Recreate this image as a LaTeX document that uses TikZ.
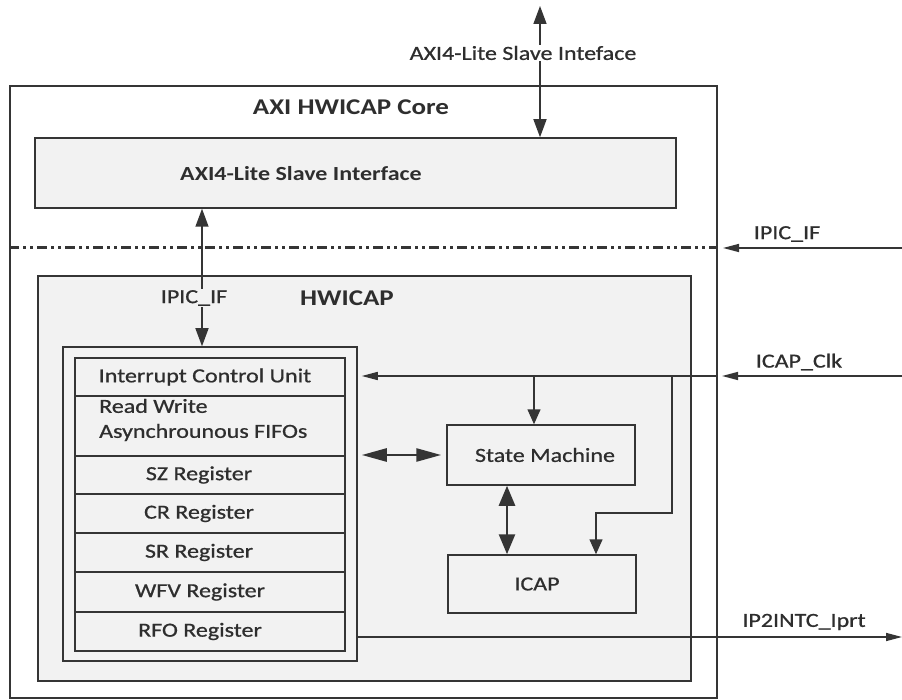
\documentclass[tikz,border=0pt]{standalone}
\usepackage{fontspec}
\setmainfont{Carlito}
\newfontfamily\rgfont{Carlito}[FakeBold=0.7]
\usepackage{graphicx}
\usetikzlibrary{arrows.meta}
\definecolor{lc}{HTML}{353535}
\definecolor{boxfill}{HTML}{F2F2F2}
\definecolor{tc}{HTML}{2E2E2E}
\newcommand{\wx}[1]{\scalebox{1.2}[1]{#1}}
\tikzset{
  bx/.style={draw=lc, line width=1.5pt, fill=boxfill, inner sep=0pt, minimum width=#1},
  ht/.style={minimum height=#1},
  txt/.style={text=tc, inner sep=1pt, font=\fontsize{20}{25}\rgfont},
  ttl/.style={text=tc, inner sep=1pt, font=\fontsize{22.5}{26}\selectfont\bfseries},
  ln/.style={draw=lc, line width=1.5pt},
  thk/.style={draw=lc, line width=2.6pt},
  bigtip/.tip={Triangle[length=18pt,width=13pt]},
  midtip/.tip={Triangle[length=15pt,width=13pt]},
  smalltip/.tip={Triangle[length=16pt,width=8pt]},
  hortip/.tip={Triangle[length=25pt,width=13pt]},
  vertip/.tip={Triangle[length=20pt,width=16pt]}
}
\begin{document}
\begin{tikzpicture}[x=1pt,y=-1pt]
\useasboundingbox[fill=white] (0,0) rectangle (902,700);
% boxes
\node[bx=707pt, ht=612pt, fill=white] (outer) at (363.5,392) {};
\node[bx=641pt, ht=70pt] (axi) at (355.5,173) {};
\node[bx=653pt, ht=405pt] (hw) at (364.5,478.5) {};
\node[bx=294pt, ht=314pt] (regout) at (210,504) {};
\node[bx=270pt, ht=38pt] (icu) at (210,377) {};
\node[bx=270pt, ht=60pt] (rw) at (210,426) {};
\node[bx=270pt, ht=38pt] (sz) at (210,475) {};
\node[bx=270pt, ht=39pt] (cr) at (210,513.5) {};
\node[bx=270pt, ht=39pt] (sr) at (210,552.5) {};
\node[bx=270pt, ht=40pt] (wfv) at (210,592) {};
\node[bx=270pt, ht=39pt] (rfo) at (210,631.5) {};
\node[bx=188pt, ht=60pt] (sm) at (541,455) {};
\node[bx=188pt, ht=58pt] (icap) at (542,584) {};
% titles and texts
\node[ttl] (tcore) at (351,107) {\wx{AXI HWICAP Core}};
\node[ttl, font=\fontsize{20}{24}\selectfont\bfseries] (taxi) at (301,174) {\wx{AXI4-Lite Slave Interface}};
\node[ttl] (thw) at (347,298) {\wx{HWICAP}};
\node[txt] (ticu) at ([xshift=-5pt]icu.center) {\wx{Interrupt Control Unit}};
\node[txt, align=left, anchor=west] (trw) at (98,420) {\wx{Read Write}\\\wx{Asynchrounous FIFOs}};
\node[txt] (tsz) at ([xshift=-11pt]sz.center) {\wx{SZ Register}};
\node[txt] (tcr) at ([xshift=-11pt]cr.center) {\wx{CR Register}};
\node[txt] (tsr) at ([xshift=-11pt]sr.center) {\wx{SR Register}};
\node[txt] (twfv) at ([xshift=-10pt]wfv.center) {\wx{WFV Register}};
\node[txt] (trfo) at ([xshift=-10pt]rfo.center) {\wx{RFO Register}};
\node[txt] (tsm) at ([xshift=4pt]sm.center) {\wx{State Machine}};
\node[txt] (ticap) at ([xshift=-5pt]icap.center) {\wx{ICAP}};
% external labels
\node[txt] (ltop) at (523,53) {\wx{AXI4-Lite Slave Inteface}};
\node[txt] (lipicR) at (787,234) {\wx{IPIC\_IF}};
\node[txt] (lipicL) at (194,298) {\wx{IPIC\_IF}};
\node[txt] (lclk) at (799,362) {\wx{ICAP\_Clk}};
\node[txt] (lirq) at (804,622) {\wx{IP2INTC\_Iprt}};
% coordinates
\coordinate (tx) at (540,0);
\coordinate (topend) at (540,6);
\coordinate (ix) at (202,0);
\coordinate (ipicE) at (902,248);
\coordinate (ipicT) at (723,248);
\coordinate (clkE) at (902,376);
\coordinate (clkT) at (722,376);
\coordinate (clkB1) at (534,376);
\coordinate (clkB2) at (672,376);
\coordinate (clkK1) at (672,513);
\coordinate (clkK2) at (596,513);
\coordinate (irqE) at (902,637);
\coordinate (vx) at (507,0);
% dash-dot separator
\draw[draw=lc, line width=3pt, dash pattern=on 10pt off 4pt on 3pt off 4pt on 3pt off 4pt] (outer.west |- ipicE) -- (outer.east |- ipicE);
% top interface
\draw[ln, -bigtip] (ltop.north -| tx) -- (topend);
\draw[ln, -bigtip] (ltop.south -| tx) -- (tx |- axi.north);
% IPIC_IF inside
\draw[ln, -bigtip] (lipicL.north -| ix) -- (ix |- axi.south);
\draw[ln, -bigtip] (lipicL.south -| ix) -- (ix |- regout.north);
% IPIC_IF right
\draw[ln, -smalltip] (ipicE) -- (ipicT);
% ICAP_Clk
\draw[ln, -smalltip] (clkE) -- (clkT);
\draw[ln, -smalltip] (outer.east |- clkE) -- ([xshift=4pt]regout.east |- clkE);
\draw[ln, -midtip] (clkB1) -- (clkB1 |- sm.north);
\draw[ln, -midtip] (clkB2) -- (clkK1) -- (clkK2) -- (clkK2 |- icap.north);
% state machine links
\draw[thk, hortip-hortip, shorten <=4pt, shorten >=5pt] (regout.east |- sm.west) -- (sm.west);
\draw[thk, vertip-vertip] (vx |- sm.south) -- (vx |- icap.north);
% interrupt out
\draw[ln, -smalltip] (regout.east |- irqE) -- (irqE);
\end{tikzpicture}
\end{document}
